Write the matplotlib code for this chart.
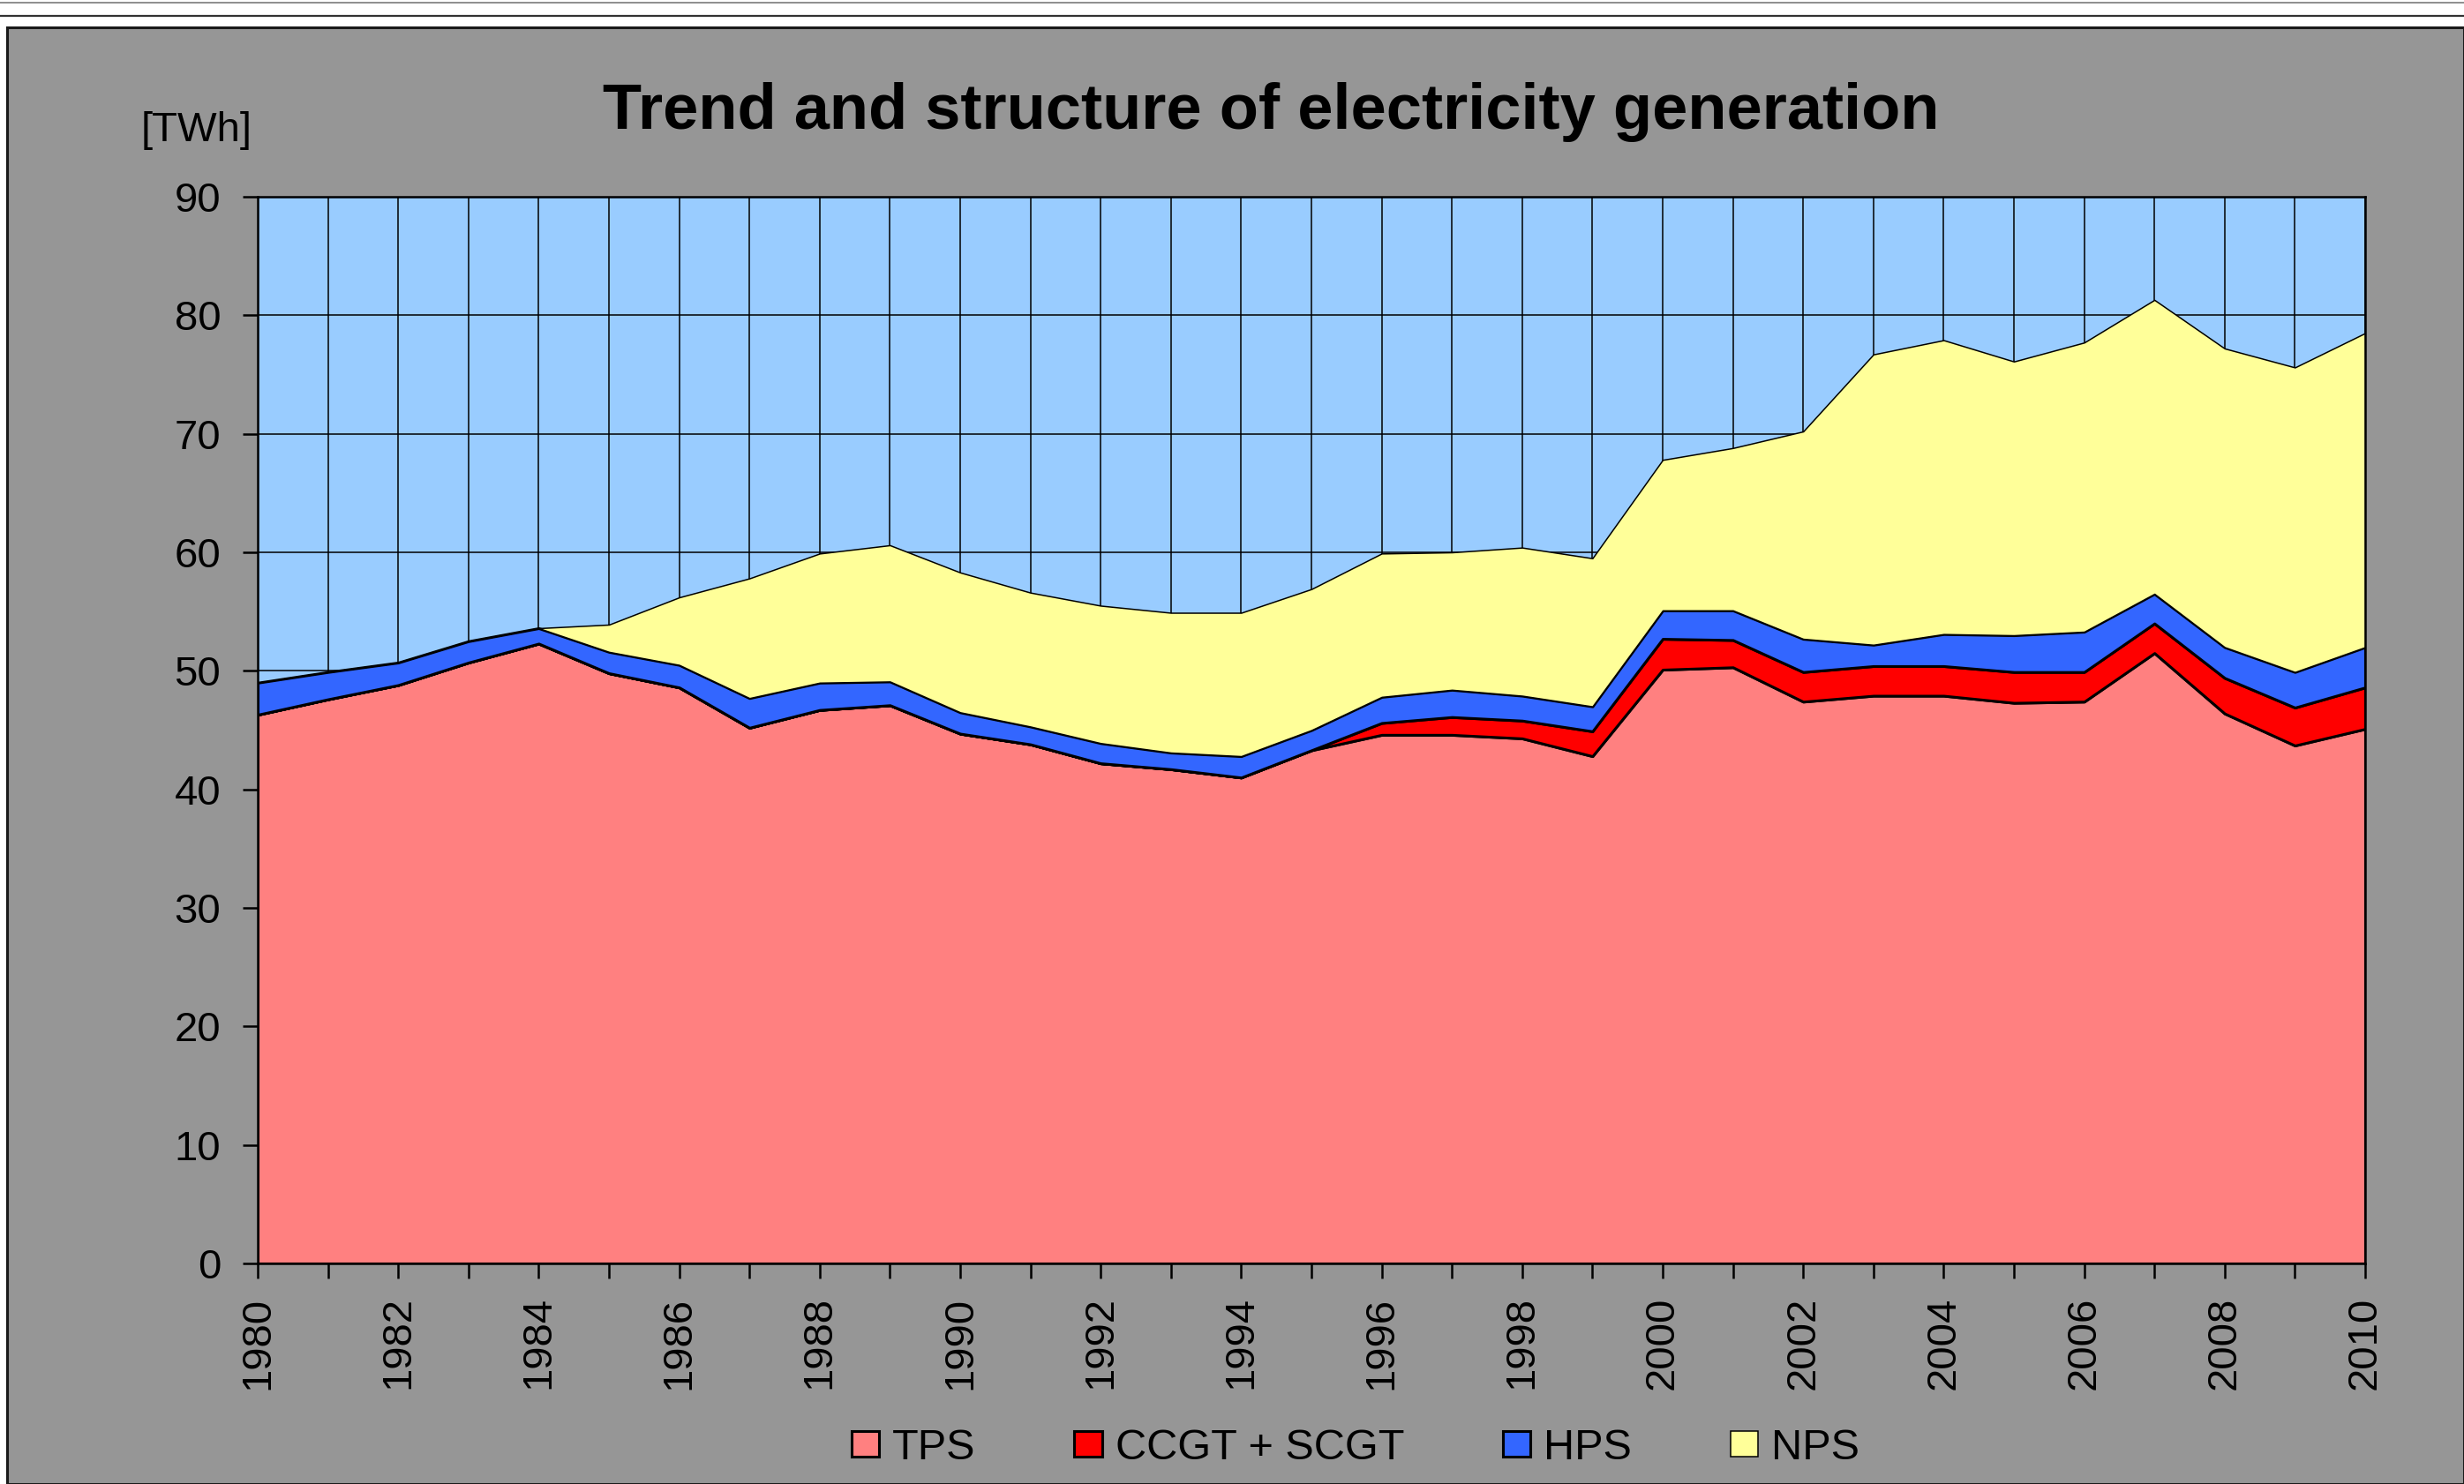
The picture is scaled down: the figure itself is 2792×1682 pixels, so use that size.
import numpy as np
import matplotlib
matplotlib.use("Agg")
import matplotlib.pyplot as plt
from matplotlib.patches import Rectangle
from matplotlib.lines import Line2D

plt.rcParams['font.family'] = ['Liberation Sans', 'DejaVu Sans']

years = list(range(1980, 2011))

# TWh per source
tps = [46.3, 47.6, 48.8, 50.7, 52.3, 49.8, 48.6, 45.2, 46.7, 47.1, 44.7, 43.8, 42.2, 41.7, 41.0, 43.3,
       44.6, 44.6, 44.3, 42.8, 50.1, 50.3, 47.4, 47.9, 47.9, 47.3, 47.4, 51.5, 46.4, 43.7, 45.1]
ccgt = [0, 0, 0, 0, 0, 0, 0, 0, 0, 0, 0, 0, 0, 0, 0, 0,
        1.0, 1.5, 1.5, 2.1, 2.6, 2.3, 2.5, 2.5, 2.5, 2.6, 2.5, 2.5, 3.0, 3.2, 3.5]
hps = [2.7, 2.3, 1.9, 1.8, 1.3, 1.8, 1.9, 2.5, 2.3, 2.0, 1.8, 1.5, 1.7, 1.4, 1.8, 1.7,
       2.2, 2.3, 2.1, 2.1, 2.4, 2.5, 2.8, 1.8, 2.7, 3.1, 3.4, 2.5, 2.6, 3.0, 3.4]
nps = [0, 0, 0, 0, 0, 2.3, 5.7, 10.1, 10.9, 11.5, 11.8, 11.3, 11.6, 11.8, 12.1, 11.9,
       12.1, 11.6, 12.5, 12.5, 12.7, 13.7, 17.5, 24.5, 24.8, 23.1, 24.4, 24.8, 25.2, 25.7, 26.5]

labels = ["TPS", "CCGT + SCGT", "HPS", "NPS"]
colors = ["#FF8080", "#FF0000", "#3366FF", "#FFFF99"]

W, H = 2792, 1682
fig = plt.figure(figsize=(W / 100, H / 100), dpi=100)
fig.patch.set_facecolor("white")

# gray chart panel and the lines above it
fig.add_artist(Rectangle((8 / W, 0), 1 - 8 / W, 1 - 31 / H, transform=fig.transFigure,
                         facecolor="#969696", edgecolor="#1a1a1a", linewidth=2.2, zorder=0))
fig.add_artist(Line2D([0, 1], [1 - 3 / H, 1 - 3 / H], transform=fig.transFigure, color="#7a7a7a", lw=1.2))
fig.add_artist(Line2D([0, 1], [1 - 18 / H, 1 - 18 / H], transform=fig.transFigure, color="#333333", lw=1.6))

ax = fig.add_axes([292 / W, 250 / H, (2680 - 292) / W, (1432 - 223) / H])
ax.set_facecolor("#99CCFF")

polys = ax.stackplot(years, tps, ccgt, hps, nps, colors=colors, labels=labels,
                     edgecolor="black", linewidth=2.2)
polys[3].set_linewidth(1.1)

ax.set_xlim(1980, 2010)
ax.set_ylim(0, 90)
ax.set_xticks(years)
ax.set_xticklabels([str(y) if y % 2 == 0 else "" for y in years], rotation=90)
ax.set_yticks(range(0, 91, 10))
ax.set_axisbelow(True)
ax.grid(True, color="black", linewidth=1.1)
ax.tick_params(axis="both", direction="out", length=12, width=1.8, labelsize=34, colors="black")
ax.tick_params(axis="x", pad=15)
ax.tick_params(axis="y", pad=18)
for s in ax.spines.values():
    s.set_linewidth(1.8)
    s.set_color("black")

fig.text(1440 / W, 1 - 146 / H, "Trend and structure of electricity generation",
         fontsize=52, fontweight="bold", ha="center", va="baseline")
fig.text(160 / W, 1 - 160 / H, "[TWh]", fontsize=34, ha="left", va="baseline")

ax.legend(loc="center", bbox_to_anchor=(1536 / W, 41 / H), bbox_transform=fig.transFigure,
          ncol=4, frameon=False, fontsize=35, handlelength=0.64, handleheight=0.56,
          handletextpad=0.31, columnspacing=2.3)

plt.savefig("out.png", dpi=100, facecolor=fig.get_facecolor())
